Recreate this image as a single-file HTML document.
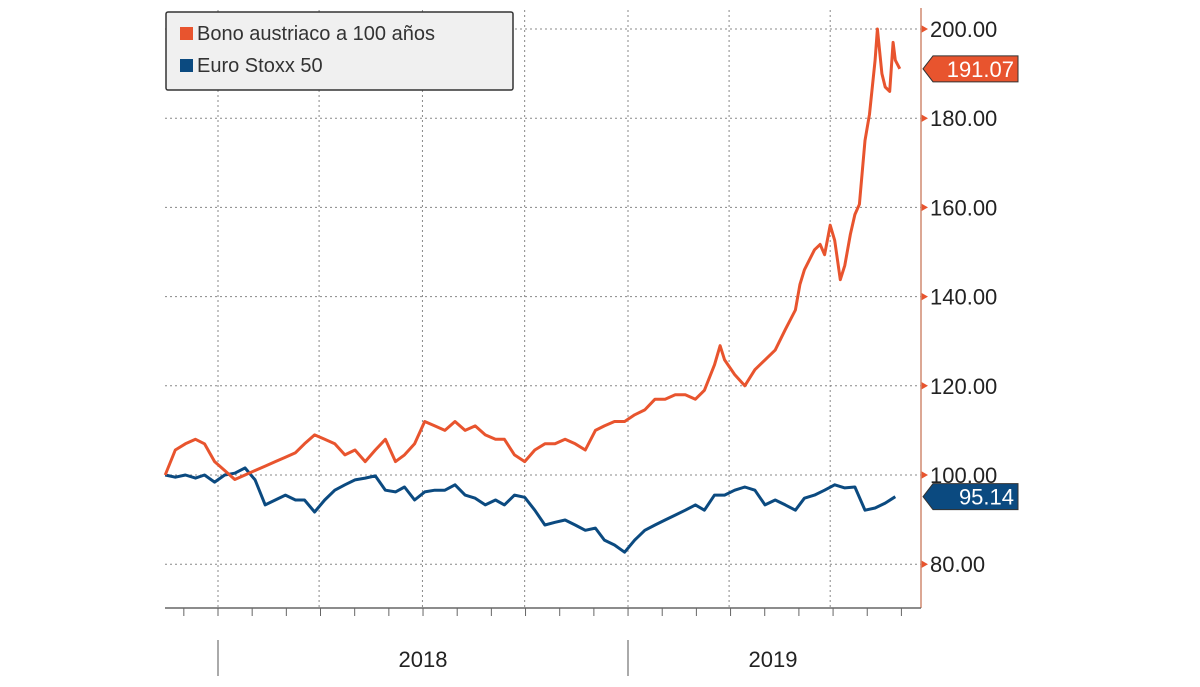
<!DOCTYPE html>
<html><head><meta charset="utf-8"><style>
body{margin:0;background:#fff;}
svg text{font-family:"Liberation Sans",sans-serif;}
</style></head><body>
<svg id="chart" width="1200" height="682" viewBox="0 0 1200 682" xmlns="http://www.w3.org/2000/svg">
<g id="grid"></g>
<g id="axes"></g>
<g id="series"></g>
<g id="legend">
<rect x="166" y="12" width="347" height="78" fill="#f0f0f0" stroke="#333" stroke-width="1.5" rx="2"/>
<rect x="180" y="27" width="13" height="13" fill="#e8542e"/>
<text x="197" y="40" font-size="20" fill="#333">Bono austriaco a 100 años</text>
<rect x="180" y="59" width="13" height="13" fill="#0b4a80"/>
<text x="197" y="72" font-size="20" fill="#333">Euro Stoxx 50</text>
</g>
</svg>
<script>
const yTicks=[200,180,160,140,120,100,80];
const yTickLabels=["200.00","180.00","160.00","140.00","120.00","100.00","80.00"];
const vGridDays=[0,90,182,273,365,455,545];
const years=["2018","2019"];
const yearStartDays=[0,365];
const bonoDays=[-47,-38,-29,-20,-12,-3,6,15,24,33,42,51,60,69,77,86,95,104,113,122,131,140,149,158,166,175,184,193,202,211,220,229,238,247,255,264,273,282,291,300,309,318,327,336,344,353,362,371,380,389,398,407,416,425,433,442,447,451,460,469,478,487,496,505,514,518,522,531,536,540,545,549,554,558,563,567,571,576,580,585,587,591,594,598,601,603,607];
const bonoValues=[100,105.6,107,108,107,103,101,99,100,101,102,103,104,105,107,109,108,107,104.5,105.6,103,105.6,108,103,104.5,107,112,111,110,112,110,111,109,108,108,104.5,103,105.6,107,107,108,107,105.6,110,111,112,112,113.5,114.6,117,117,118,118,117,119,124.7,129,125.8,122.5,120,123.6,125.8,128,132.6,137,142.7,146,150.5,151.7,149.4,156,152.6,143.8,147,154,158.4,160.7,175,180.9,193,200,190,187,186,197,193,191.07];
const stoxxDays=[-47,-38,-29,-20,-12,-3,6,15,24,33,42,51,60,69,77,86,95,104,113,122,131,140,149,158,166,175,184,193,202,211,220,229,238,247,255,264,273,282,291,300,309,318,327,336,344,353,362,371,380,389,398,407,416,425,433,442,451,460,469,478,487,496,505,514,522,531,540,549,558,567,576,585,594,603];
const stoxxValues=[100,99.5,100,99.3,100,98.4,100,100.4,101.6,98.9,93.3,94.4,95.5,94.4,94.4,91.7,94.4,96.6,97.8,98.9,99.3,99.8,96.6,96.2,97.3,94.4,96.2,96.6,96.6,97.8,95.5,94.8,93.3,94.4,93.3,95.5,95,92.1,88.8,89.4,89.9,88.8,87.6,88.1,85.4,84.3,82.7,85.4,87.6,88.8,89.9,91,92.1,93.3,92.1,95.5,95.5,96.6,97.3,96.6,93.3,94.4,93.3,92.1,94.8,95.5,96.6,97.8,97.1,97.3,92.1,92.6,93.7,95.14];
const bonoLast="191.07", stoxxLast="95.14";

const NS="http://www.w3.org/2000/svg";
const L=165,R=921,B=608;
function xs(d){return 218+d*410/365;}
function ys(v){return 475-(v-100)*4.46;}
function mk(tag,attrs,parent){const e=document.createElementNS(NS,tag);for(const k in attrs)e.setAttribute(k,attrs[k]);parent.appendChild(e);return e;}
const grid=document.getElementById('grid'),axes=document.getElementById('axes'),series=document.getElementById('series');

yTicks.forEach((v,i)=>{
  const y=ys(v);
  const g=mk('line',{x1:L,x2:R,y1:y,y2:y,stroke:'#888','stroke-width':1,'stroke-dasharray':'2,3'},grid);
  
  
  const t=mk('path',{d:`M${R} ${y-4}L${R+7} ${y}L${R} ${y+4}Z`,fill:'#e8542e'},axes);
  
  
  const tx=mk('text',{x:930,y:y+8,'font-size':22,fill:'#222'},axes);
  tx.textContent=yTickLabels[i];
  
  
});
vGridDays.forEach(d=>{
  const x=xs(d);
  const g=mk('line',{x1:x,x2:x,y1:10,y2:B,stroke:'#888','stroke-width':1,'stroke-dasharray':'2,3'},grid);
  
  
});
const ax=mk('line',{x1:R,x2:R,y1:8,y2:B,stroke:'#d08a70','stroke-width':1.5},axes);


const bx=mk('line',{x1:L,x2:R,y1:B,y2:B,stroke:'#666','stroke-width':1.5},axes);


for(let m=-1;m<=20;m++){
  const d=m*30.42;const x=xs(d);
  if(x<L||x>R)continue;
  const t=mk('line',{x1:x,x2:x,y1:B,y2:B+8,stroke:'#666','stroke-width':1},axes);
  
  
}
years.forEach((yr,i)=>{
  const x=xs(yearStartDays[i]);
  const s=mk('line',{x1:x,x2:x,y1:640,y2:676,stroke:'#555','stroke-width':1},axes);
  
  
  const nx=i+1<years.length?xs(yearStartDays[i+1]):x+290;
  const t=mk('text',{x:(x+nx)/2,y:667,'font-size':22,fill:'#222','text-anchor':'middle'},axes);
  t.textContent=yr;
  
  
});
function line(days,vals,color,name){
  const d=days.map((dd,i)=>(i?'L':'M')+xs(dd).toFixed(1)+' '+ys(vals[i]).toFixed(1)).join('');
  const p=mk('path',{d:d,fill:'none',stroke:color,'stroke-width':3,'stroke-linejoin':'round'},series);
  
  
}
line(stoxxDays,stoxxValues,'#0b4a80','stoxx-line');
line(bonoDays,bonoValues,'#e8542e','bono-line');
function callout(v,txt,fill,name){
  const y=ys(v);
  const p=mk('path',{d:`M${R+2} ${y}L${R+12} ${y-13}L1018 ${y-13}L1018 ${y+13}L${R+12} ${y+13}Z`,fill:fill,stroke:'#333','stroke-width':1},axes);
  
  
  const t=mk('text',{x:1014,y:y+8,'font-size':22,fill:'#fff','text-anchor':'end'},axes);
  t.textContent=txt;
  
  
}
callout(bonoValues[bonoValues.length-1],bonoLast,'#e8542e','bono-last-value');
callout(stoxxValues[stoxxValues.length-1],stoxxLast,'#0b4a80','stoxx-last-value');
</script>
</body></html>
